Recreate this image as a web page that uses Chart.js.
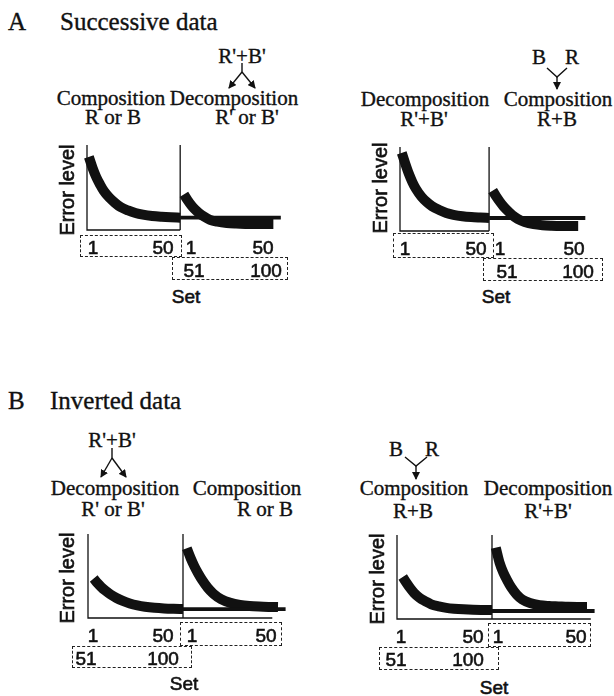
<!DOCTYPE html>
<html>
<head>
<meta charset="utf-8">
<script src="https://cdn.jsdelivr.net/npm/chart.js@4.4.0/dist/chart.umd.min.js"></script>
<style>
  html, body { margin: 0; padding: 0; background: #fff; }
  #fig { position: relative; width: 614px; height: 696px; overflow: hidden; background: #fff; }
  .serif { position: absolute; font-family: 'Liberation Serif', 'Times New Roman', serif; font-size: 21px; color: #111; white-space: nowrap; line-height: 1; transform: translate(-50%, -50%); -webkit-text-stroke: 0.35px #111; }
  .title { font-size: 25px; transform: translate(0, -50%); }
  .sans { position: absolute; font-family: 'Liberation Sans', Arial, sans-serif; font-size: 19px; color: #111; white-space: nowrap; line-height: 1; transform: translate(-50%, -50%); -webkit-text-stroke: 0.6px #111; }
  .ylab { font-size: 20px; transform: translate(-50%, -50%) rotate(-90deg); }
  .box { position: absolute; border: 1px dashed #222; box-sizing: border-box; }
  canvas { position: absolute; }
  svg { position: absolute; left: 0; top: 0; }
</style>
</head>
<body>
<div id="fig"></div>
<script>
// Set numbers (x) shared by all four panels
const setsFirst = [1, 3, 5, 7, 9, 12, 15, 18, 22, 26, 30, 35, 40, 45, 50];
const setsSecond = [52, 54, 56, 58, 60, 63, 66, 70, 75, 80, 85, 90, 95, 100];
const setsCarry = [50, 104];

// Error level (0-100)
const aLeftFirst = [86, 73, 62, 53.5, 46, 38, 32, 27, 23, 20, 18, 16.4, 15.5, 14.9, 14.5];
const aLeftSecond = [42, 35, 29, 24, 20, 15.5, 12, 9.8, 8.3, 7.6, 7.2, 7, 7, 7];
const aLeftCarry = [14.5, 14.5];

const aRightFirst = [93, 80, 68, 58, 50, 41, 34.5, 29.5, 25, 21.5, 19.3, 17.6, 16.6, 16, 15.5];
const aRightSecond = [48, 41, 35, 29.5, 25, 19, 14.5, 10.8, 8.2, 6.9, 6.3, 6, 6, 6];
const aRightCarry = [15.5, 15.5];

const bLeftFirst = [null, 47, 41.5, 36.8, 32.8, 27.8, 23.8, 20.6, 17.3, 15, 13.4, 12.1, 11.3, 10.9, 10.7];
const bLeftSecond = [83, 71.5, 61.5, 53, 45.5, 36, 29, 22.5, 18, 15.6, 14.3, 13.6, 13.2, 13];
const bLeftCarry = [10.5, 10.5];

const bRightFirst = [null, 50, 43, 36.5, 31, 25, 21, 17.5, 15, 13.3, 12.3, 11.5, 11, 10.8, 10.7];
const bRightSecond = [85, 67, 55, 46, 38, 29, 23, 19, 16.5, 15.5, 15, 14.5, 14.3, 14.3];
const bRightCarry = [9.5, 9.5];

const tickRowFirst = ['1', '50'];
const tickRowSecond = ['51', '100'];

const X_MAX = 110;
const PAD = 10;
const fig = document.getElementById('fig');

function addText(text, x, y, cls) {
  const d = document.createElement('div');
  d.className = cls;
  d.textContent = text;
  d.style.left = x + 'px';
  d.style.top = y + 'px';
  fig.appendChild(d);
}

function addBox(x1, y1, x2, y2) {
  const d = document.createElement('div');
  d.className = 'box';
  d.style.left = x1 + 'px';
  d.style.top = y1 + 'px';
  d.style.width = (x2 - x1) + 'px';
  d.style.height = (y2 - y1) + 'px';
  fig.appendChild(d);
}

function toPoints(xs, ys) {
  return xs.map((x, i) => ({ x: x, y: ys[i] }));
}

// axes + divider line drawn from the x scale
const axesPlugin = {
  id: 'axes',
  afterDatasetsDraw(chart, args, opts) {
    const { ctx, chartArea, scales } = chart;
    const x0 = scales.x.getPixelForValue(0);
    const xd = scales.x.getPixelForValue(50);
    const xe = scales.x.getPixelForValue(opts.axisEnd);
    ctx.save();
    ctx.strokeStyle = '#111';
    ctx.lineWidth = 1.3;
    ctx.beginPath();
    ctx.moveTo(x0, chartArea.top);
    ctx.lineTo(x0, chartArea.bottom);
    ctx.lineTo(xe, chartArea.bottom);
    ctx.moveTo(xd, chartArea.top);
    ctx.lineTo(xd, chartArea.bottom);
    ctx.stroke();
    ctx.restore();
  }
};

const panels = [
  { left: 87, divider: 180, top: 145, bottom: 230, axisEnd: 50, first: aLeftFirst, second: aLeftSecond, carry: aLeftCarry },
  { left: 400, divider: 489, top: 147, bottom: 231, axisEnd: 50, first: aRightFirst, second: aRightSecond, carry: aRightCarry },
  { left: 88, divider: 183, top: 534, bottom: 618, axisEnd: 97, first: bLeftFirst, second: bLeftSecond, carry: bLeftCarry },
  { left: 397, divider: 492, top: 535, bottom: 619, axisEnd: 102, first: bRightFirst, second: bRightSecond, carry: bRightCarry }
];

panels.forEach(p => {
  const ppu = (p.divider - p.left) / 50;
  const canvas = document.createElement('canvas');
  canvas.width = Math.round(ppu * X_MAX + 2 * PAD);
  canvas.height = (p.bottom - p.top) + 2 * PAD;
  canvas.style.left = (p.left - PAD) + 'px';
  canvas.style.top = (p.top - PAD) + 'px';
  fig.appendChild(canvas);

  new Chart(canvas, {
    type: 'line',
    data: {
      datasets: [
        { data: toPoints(setsCarry, p.carry), borderWidth: 3.8, clip: false },
        { data: toPoints(setsFirst, p.first), borderWidth: 10, cubicInterpolationMode: 'monotone', clip: false },
        { data: toPoints(setsSecond, p.second), borderWidth: 10, cubicInterpolationMode: 'monotone', clip: false }
      ]
    },
    options: {
      responsive: false,
      animation: false,
      events: [],
      layout: { padding: PAD, autoPadding: false },
      elements: {
        point: { radius: 0 },
        line: { borderColor: '#111', borderCapStyle: 'butt', borderJoinStyle: 'round', fill: false }
      },
      plugins: {
        legend: { display: false },
        tooltip: { enabled: false },
        axes: { axisEnd: p.axisEnd }
      },
      scales: {
        x: { type: 'linear', display: false, min: 0, max: X_MAX },
        y: { display: false, min: 0, max: 100 }
      }
    },
    plugins: [axesPlugin]
  });
});

// titles
addText('A', 8, 20.5, 'serif title');
addText('Successive data', 60, 20.5, 'serif title');
addText('B', 8, 400, 'serif title');
addText('Inverted data', 50, 400, 'serif title');

// condition labels
addText("R'+B'", 242, 56, 'serif');
addText('Composition', 111, 98, 'serif');
addText('R or B', 113, 117, 'serif');
addText('Decomposition', 234, 98, 'serif');
addText("R' or B'", 247, 117, 'serif');

addText('B', 539, 57, 'serif');
addText('R', 572, 57, 'serif');
addText('Decomposition', 425, 99, 'serif');
addText("R'+B'", 424, 119, 'serif');
addText('Composition', 558, 99, 'serif');
addText('R+B', 557, 119, 'serif');

addText("R'+B'", 112, 440, 'serif');
addText('Decomposition', 115, 488, 'serif');
addText("R' or B'", 113, 509, 'serif');
addText('Composition', 247, 488, 'serif');
addText('R or B', 265, 509, 'serif');

addText('B', 396, 449, 'serif');
addText('R', 432, 449, 'serif');
addText('Composition', 414, 488, 'serif');
addText('R+B', 413, 511, 'serif');
addText('Decomposition', 548, 488, 'serif');
addText("R'+B'", 548, 511, 'serif');

// y labels
addText('Error level', 67, 190, 'sans ylab');
addText('Error level', 380, 188, 'sans ylab');
addText('Error level', 67, 578, 'sans ylab');
addText('Error level', 377, 579, 'sans ylab');

// dashed set boxes
addBox(80, 235, 182, 257); addBox(172, 257, 288, 280);
addBox(393, 233, 494, 258); addBox(483, 258, 603, 281);
addBox(180, 622, 282, 646); addBox(72, 646, 192, 668);
addBox(488, 623, 591, 647); addBox(379, 647, 499, 670);

// set tick labels
function ticks(row, xs, y) {
  row.forEach((t, i) => addText(t, xs[i], y, 'sans'));
}
ticks(tickRowFirst, [93, 163], 246.5); ticks(tickRowFirst, [191, 263], 246.5); ticks(tickRowSecond, [194, 266], 270);
ticks(tickRowFirst, [405, 476], 248); ticks(tickRowFirst, [500, 574], 248); ticks(tickRowSecond, [507, 578], 271);
ticks(tickRowFirst, [93, 163], 635); ticks(tickRowFirst, [192, 266], 635); ticks(tickRowSecond, [86, 163], 658);
ticks(tickRowFirst, [401, 473], 636); ticks(tickRowFirst, [498, 576], 636); ticks(tickRowSecond, [396, 468], 659);

addText('Set', 186, 296, 'sans');
addText('Set', 496, 296, 'sans');
addText('Set', 184, 683, 'sans');
addText('Set', 494, 687, 'sans');

// split / merge arrows
const svgNS = 'http://www.w3.org/2000/svg';
const svg = document.createElementNS(svgNS, 'svg');
svg.setAttribute('width', 614);
svg.setAttribute('height', 696);
svg.innerHTML = `
  <defs>
    <marker id="ah" markerWidth="8" markerHeight="8" refX="7" refY="4" orient="auto" markerUnits="userSpaceOnUse">
      <path d="M0,0 L8,4 L0,8 z" fill="#111"/>
    </marker>
  </defs>
  <g stroke="#111" stroke-width="1.4" fill="none">
    <path d="M242,63 V72"/>
    <path d="M242,72 L229,88" marker-end="url(#ah)"/>
    <path d="M242,72 L255,88" marker-end="url(#ah)"/>
    <path d="M547,68 L557,77 L567,68"/>
    <path d="M557,77 V89" marker-end="url(#ah)"/>
    <path d="M112,448 V458"/>
    <path d="M112,458 L101,477" marker-end="url(#ah)"/>
    <path d="M112,458 L126,477" marker-end="url(#ah)"/>
    <path d="M405,457 L416,466 L427,457"/>
    <path d="M416,466 V479" marker-end="url(#ah)"/>
  </g>`;
fig.appendChild(svg);
</script>
</body>
</html>
